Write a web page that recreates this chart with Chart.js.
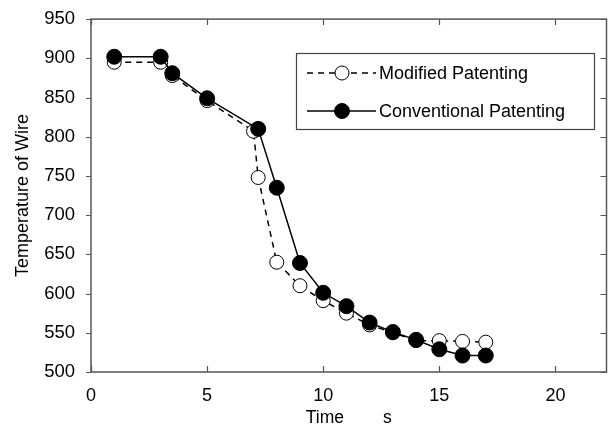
<!DOCTYPE html>
<html>
<head>
<meta charset="utf-8">
<script src="https://cdn.jsdelivr.net/npm/chart.js@4/dist/chart.umd.min.js"></script>
<style>
  html, body { margin: 0; padding: 0; background: #fff; }
  #wrap { width: 615px; height: 432px; }
</style>
</head>
<body>
<div id="wrap"><canvas id="chart" width="615" height="432"></canvas></div>
<script>
// ── DATA ────────────────────────────────────────────────
const modTime  = [1, 3, 3.5, 5, 7, 7.2, 8, 9, 10, 11, 12, 13, 14, 15, 16, 17];
const modTemp  = [895, 895, 878, 846, 807, 748, 640, 610, 591, 575, 560, 550, 540, 540, 539, 538];
const convTime = [1, 3, 3.5, 5, 7.2, 8, 9, 10, 11, 12, 13, 14, 15, 16, 17];
const convTemp = [902, 902, 881, 849, 810, 735, 639, 601, 584, 563, 551, 541, 529, 521, 521];
const xTicks   = [0, 5, 10, 15, 20];
const yTicks   = [500, 550, 600, 650, 700, 750, 800, 850, 900, 950];

const FONT = 'Liberation Sans, Arial, sans-serif';

const pts = (xs, ys) => xs.map((x, i) => ({ x, y: ys[i] }));

// ── FRAME + TICK MARKS ──────────────────────────────────
const framePlugin = {
  id: 'frame',
  afterDatasetsDraw(chart) {
    const { ctx, chartArea: a, scales: { x, y } } = chart;
    ctx.save();
    ctx.strokeStyle = '#555';
    ctx.lineWidth = 1.5;
    ctx.strokeRect(a.left, a.top, a.right - a.left, a.bottom - a.top);
    ctx.lineWidth = 1.2;
    ctx.beginPath();
    xTicks.forEach(v => {
      const px = Math.round(x.getPixelForValue(v)) + 0.5;
      ctx.moveTo(px, a.bottom); ctx.lineTo(px, a.bottom - 6);
      ctx.moveTo(px, a.top);    ctx.lineTo(px, a.top + 6);
    });
    yTicks.forEach(v => {
      const py = Math.round(y.getPixelForValue(v)) + 0.5;
      ctx.moveTo(a.left - 5, py); ctx.lineTo(a.left, py);
      ctx.moveTo(a.right, py);    ctx.lineTo(a.right - 6, py);
    });
    ctx.stroke();
    ctx.restore();
  },
};

// ── LEGEND BOX (inside plot) ────────────────────────────
const legendPlugin = {
  id: 'boxLegend',
  afterDraw(chart) {
    const ctx = chart.ctx;
    const bx = 296, by = 53, bw = 298, bh = 76;
    ctx.save();
    ctx.fillStyle = '#fff';
    ctx.fillRect(bx, by, bw, bh);
    ctx.strokeStyle = '#444';
    ctx.lineWidth = 1.2;
    ctx.strokeRect(bx + 0.5, by + 0.5, bw, bh);
    const rows = chart.data.datasets;
    [73, 111].forEach((ry, i) => {
      const ds = rows[i];
      ctx.strokeStyle = '#000';
      ctx.lineWidth = 1.5;
      ctx.setLineDash(ds.borderDash || []);
      ctx.beginPath(); ctx.moveTo(307, ry); ctx.lineTo(376, ry); ctx.stroke();
      ctx.setLineDash([]);
      ctx.beginPath(); ctx.arc(342, ry, ds.pointRadius, 0, Math.PI * 2);
      ctx.fillStyle = ds.pointBackgroundColor; ctx.fill();
      ctx.lineWidth = 1; ctx.stroke();
      ctx.fillStyle = '#000';
      ctx.font = '18px ' + FONT;
      ctx.textBaseline = 'middle';
      ctx.fillText(ds.label, 379, ry + 1);
    });
    ctx.restore();
  },
};

new Chart(document.getElementById('chart'), {
  type: 'scatter',
  data: {
    datasets: [
      {
        label: 'Modified Patenting',
        data: pts(modTime, modTemp),
        showLine: true,
        borderColor: '#000',
        borderWidth: 1.5,
        borderDash: [6, 5],
        pointRadius: 7,
        pointBackgroundColor: '#fff',
        pointBorderColor: '#000',
        pointBorderWidth: 1,
        order: 2,
      },
      {
        label: 'Conventional Patenting',
        data: pts(convTime, convTemp),
        showLine: true,
        borderColor: '#000',
        borderWidth: 1.5,
        pointRadius: 7.5,
        pointBackgroundColor: '#000',
        pointBorderColor: '#000',
        pointBorderWidth: 1,
        order: 1,
      },
    ],
  },
  options: {
    responsive: false,
    animation: false,
    events: [],
    layout: { padding: { top: 17, right: 3, left: 0, bottom: 0 } },
    plugins: { legend: { display: false }, tooltip: { enabled: false } },
    scales: {
      x: {
        type: 'linear', min: 0, max: 22.2,
        grid: { display: false },
        border: { display: false },
        afterBuildTicks: s => { s.ticks = xTicks.map(v => ({ value: v })); },
        afterFit: s => { s.height = 60; },
        ticks: { color: '#000', font: { size: 18, family: FONT }, padding: 5, maxRotation: 0 },
        title: { display: true, text: 'Time        s', color: '#000',
                 font: { size: 17.5, family: FONT }, padding: { top: 0, bottom: 3 } },
      },
      y: {
        min: 500, max: 950,
        grid: { display: false },
        border: { display: false },
        afterBuildTicks: s => { s.ticks = yTicks.map(v => ({ value: v })); },
        afterFit: s => { s.width = 91; },
        ticks: { color: '#000', font: { size: 18.5, family: FONT }, padding: 8 },
        title: { display: true, text: 'Temperature of Wire', color: '#000',
                 font: { size: 18, family: FONT }, padding: { top: 12, bottom: 0 } },
      },
    },
  },
  plugins: [framePlugin, legendPlugin],
});
</script>
</body>
</html>
